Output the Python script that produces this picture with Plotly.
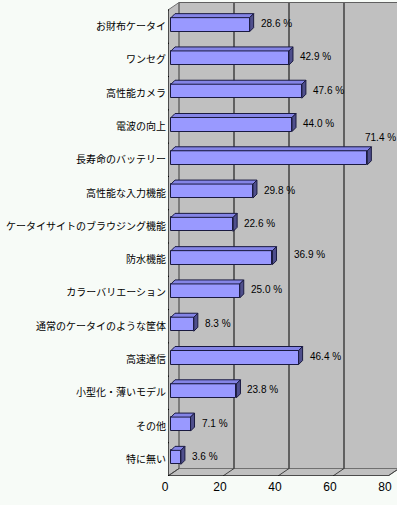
import plotly.graph_objects as go

categories = [
    "お財布ケータイ", "ワンセグ", "高性能カメラ", "電波の向上", "長寿命のバッテリー",
    "高性能な入力機能", "ケータイサイトのブラウジング機能", "防水機能", "カラーバリエーション",
    "通常のケータイのような筐体", "高速通信", "小型化・薄いモデル", "その他", "特に無い",
]
values = [28.6, 42.9, 47.6, 44.0, 71.4, 29.8, 22.6, 36.9, 25.0, 8.3, 46.4, 23.8, 7.1, 3.6]
x_ticks = [0, 20, 40, 60, 80]

# ---- geometry / style (derived from axis scale) ----
PX_PER_X = 2.75                 # pixels per data unit on x
PX_PER_Y = 33.29                # pixels per category
ML = 168
W, H = 397, 505
MB = 29
x_max = (W - ML) / PX_PER_X
y_top = -0.5 - 10 / PX_PER_Y
wall_dx = 11 / PX_PER_X
wall_dy = 7.5 / PX_PER_Y
bar_base = 3 / PX_PER_X
bar_w = 14 / PX_PER_Y
bar_shift = 0.06
bd_x = 4 / PX_PER_X
bd_y = 4 / PX_PER_Y

n = len(categories)
idx = list(range(n))
yc = [i - bar_shift for i in idx]
front_bottom = n - 0.5
back_bottom = front_bottom - wall_dy
back_top = -0.5 - wall_dy

BG = "#F7FBF7"
WALL = "#C0C0C0"
FACE = "#9999FF"
TOP = "#8484E6"
SIDE = "#4F4F8C"
EDGE = "#1A1A40"

fig = go.Figure()

fig.add_trace(go.Bar(
    orientation="h", x=values, y=yc, base=bar_base, width=bar_w,
    marker=dict(color=FACE, line=dict(color=EDGE, width=1)),
    hoverinfo="skip", showlegend=False,
))

tx, ty, sx, sy = [], [], [], []
for v, c in zip(values, yc):
    x0 = bar_base
    x1 = bar_base + v
    yt = c - bar_w / 2
    yb = c + bar_w / 2
    tx += [x0, x1, x1 + bd_x, x0 + bd_x, x0, None]
    ty += [yt, yt, yt - bd_y, yt - bd_y, yt, None]
    sx += [x1, x1 + bd_x, x1 + bd_x, x1, x1, None]
    sy += [yt, yt - bd_y, yb - bd_y, yb, yt, None]

fig.add_trace(go.Scatter(x=tx, y=ty, mode="lines", fill="toself", fillcolor=TOP,
                         line=dict(color=EDGE, width=1), hoverinfo="skip",
                         showlegend=False, connectgaps=False))
fig.add_trace(go.Scatter(x=sx, y=sy, mode="lines", fill="toself", fillcolor=SIDE,
                         line=dict(color=EDGE, width=1), hoverinfo="skip",
                         showlegend=False, connectgaps=False))

shapes = []
# back wall
shapes.append(dict(type="rect", xref="x", yref="y", x0=wall_dx, x1=x_ticks[-1] + wall_dx + 5,
                   y0=back_top, y1=back_bottom, fillcolor=WALL, line=dict(width=0), layer="below"))
# side wall
shapes.append(dict(type="path", xref="x", yref="y",
                   path=f"M 0,-0.5 L {wall_dx},{back_top} L {wall_dx},{back_bottom} L 0,{front_bottom} Z",
                   fillcolor=WALL, line=dict(color="#707070", width=1), layer="below"))
# floor
xe = x_ticks[-1]
shapes.append(dict(type="path", xref="x", yref="y",
                   path=f"M 0,{front_bottom} L {wall_dx},{back_bottom} L {xe + wall_dx},{back_bottom} L {xe},{front_bottom} Z",
                   fillcolor=WALL, line=dict(color="#707070", width=1), layer="below"))
# back-wall gridlines
for t in x_ticks:
    shapes.append(dict(type="line", xref="x", yref="y", x0=t + wall_dx, x1=t + wall_dx,
                       y0=back_top, y1=back_bottom,
                       line=dict(color="#606060" if t == 0 else "black", width=1), layer="below"))
    shapes.append(dict(type="line", xref="x", yref="y", x0=t, x1=t + wall_dx,
                       y0=front_bottom, y1=back_bottom,
                       line=dict(color="#404040", width=1), layer="below"))
# top edge of back wall
shapes.append(dict(type="line", xref="x", yref="y", x0=wall_dx, x1=xe + wall_dx + 5,
                   y0=back_top, y1=back_top, line=dict(color="#606060", width=1), layer="below"))
# front axis lines
shapes.append(dict(type="line", xref="x", yref="y", x0=0, x1=0, y0=-0.5, y1=front_bottom,
                   line=dict(color="black", width=1)))
shapes.append(dict(type="line", xref="x", yref="y", x0=0, x1=xe, y0=front_bottom, y1=front_bottom,
                   line=dict(color="black", width=1)))
# category ticks
for i in range(n + 1):
    shapes.append(dict(type="line", xref="x", yref="y", x0=-4 / PX_PER_X, x1=1 / PX_PER_X,
                       y0=i - 0.5, y1=i - 0.5, line=dict(color="black", width=1)))

# value labels
label_nudge = {4: (-4, 20), 7: (20, 3)}
annotations = []
for i, (v, c) in enumerate(zip(values, yc)):
    dx, dy = label_nudge.get(i, (9, 1))
    annotations.append(dict(x=bar_base + v, y=c, xref="x", yref="y", text=f"{v:.1f} %",
                            showarrow=False, xanchor="left", yanchor="middle",
                            xshift=dx, yshift=dy,
                            font=dict(family="Liberation Sans, Arial", size=10, color="black")))

fig.update_layout(
    width=W, height=H,
    margin=dict(l=ML, r=0, t=0, b=MB, autoexpand=False),
    paper_bgcolor=BG, plot_bgcolor=BG,
    shapes=shapes, annotations=annotations,
    bargap=0,
    xaxis=dict(range=[0, x_max], tickvals=x_ticks, showgrid=False, zeroline=False,
               showline=False, ticks="", ticklabelshift=-3, ticklabelstandoff=2,
               automargin=False,
               tickfont=dict(family="Liberation Sans, Arial", size=12, color="black"),
               fixedrange=True),
    yaxis=dict(range=[front_bottom, y_top], tickvals=idx, ticktext=categories,
               showgrid=False, zeroline=False, showline=False, ticks="",
               ticklabelstandoff=1, automargin=False,
               tickfont=dict(family="Noto Sans CJK JP", size=10, color="black"),
               fixedrange=True),
)

fig.write_html(
    "out.html",
    config={"displayModeBar": False},
    post_script="document.body.style.margin='0';document.body.style.background='%s';" % BG,
)
